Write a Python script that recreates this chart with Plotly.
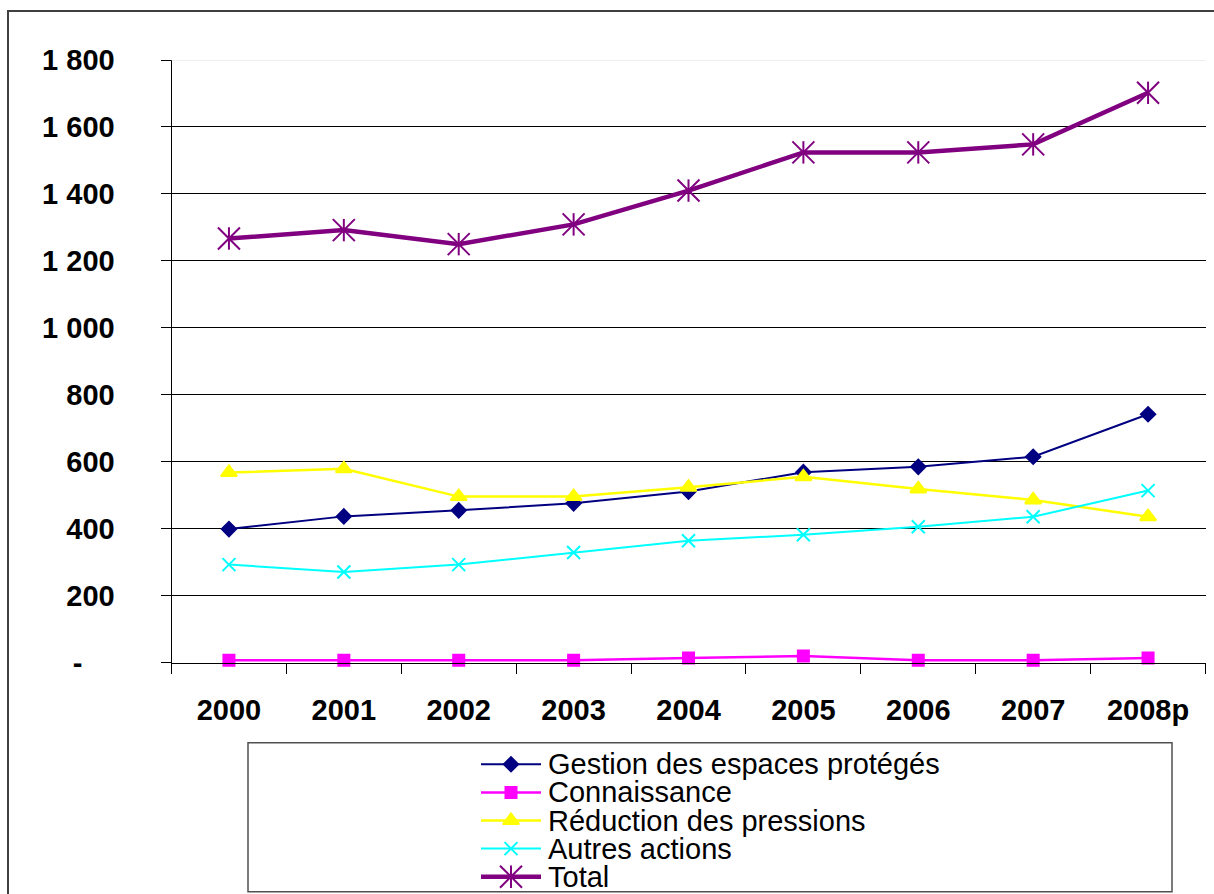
import plotly.graph_objects as go

W, H = 1214, 894

# ---- data -------------------------------------------------------------
years = ["2000", "2001", "2002", "2003", "2004", "2005", "2006", "2007", "2008p"]

gestion = [399, 437, 455, 476, 511, 569, 585, 615, 742]
connaissance = [7, 7, 7, 7, 14, 20, 7, 7, 14]
reduction = [568, 579, 496, 496, 524, 555, 519, 486, 436]
autres = [293, 271, 293, 329, 364, 382, 406, 436, 514]
total = [1267, 1292, 1250, 1309, 1410, 1524, 1524, 1548, 1702]

series_names = [
    "Gestion des espaces protégés",
    "Connaissance",
    "Réduction des pressions",
    "Autres actions",
    "Total",
]

y_tickvals = [0, 200, 400, 600, 800, 1000, 1200, 1400, 1600, 1800]
y_ticktext = ["-\u00a0\u00a0\u00a0\u00a0", "200", "400", "600", "800",
              "1 000", "1 200", "1 400", "1 600", "1 800"]

# ---- styles -----------------------------------------------------------
FONT = "Liberation Sans, Arial, sans-serif"
styles = [
    dict(color="#000080", width=2, symbol="diamond", size=11),
    dict(color="#FF00FF", width=2.5, symbol="square", size=11),
    dict(color="#FFFF00", width=2.5, symbol="triangle-up", size=14),
    dict(color="#00FFFF", width=2, symbol="x-thin-open", size=13),
    dict(color="#800080", width=4.5, symbol="x-thin-open", size=22),
]
values = [gestion, connaissance, reduction, autres, total]


def fx(p):
    """pixel x -> paper x"""
    return p / W


def fy(p):
    """pixel y (from top) -> paper y"""
    return 1 - p / H


def star_stroke(st):
    # vertical stroke that turns the x marker into a six-armed star
    return dict(symbol="line-ns-open", size=16, color=st["color"],
                line=dict(color=st["color"], width=2))


fig = go.Figure()

for name, vals, st in zip(series_names, values, styles):
    fig.add_trace(go.Scatter(
        x=years, y=vals, name=name, mode="lines+markers",
        line=dict(color=st["color"], width=st["width"]),
        marker=dict(symbol=st["symbol"], size=st["size"], color=st["color"],
                    line=dict(color=st["color"], width=2)),
        showlegend=False, cliponaxis=False,
    ))
    if name == "Total":
        fig.add_trace(go.Scatter(
            x=years, y=vals, mode="markers", showlegend=False, cliponaxis=False,
            marker=star_stroke(st),
        ))

# ---- legend drawn on its own small axes (1 unit = 60 px) --------------
for i, (name, st) in enumerate(zip(series_names, styles)):
    fig.add_trace(go.Scatter(
        x=[0, 1], y=[i, i], mode="lines", xaxis="x2", yaxis="y2",
        line=dict(color=st["color"], width=st["width"]), showlegend=False,
        hoverinfo="skip",
    ))
    fig.add_trace(go.Scatter(
        x=[0.5], y=[i], mode="markers", xaxis="x2", yaxis="y2",
        marker=dict(symbol=st["symbol"], size=st["size"], color=st["color"],
                    line=dict(color=st["color"], width=2)),
        showlegend=False, hoverinfo="skip", cliponaxis=False,
    ))
    if name == "Total":
        fig.add_trace(go.Scatter(
            x=[0.5], y=[i], mode="markers", xaxis="x2", yaxis="y2",
            marker=star_stroke(st),
            showlegend=False, hoverinfo="skip", cliponaxis=False,
        ))
    fig.add_annotation(
        x=(546 - 481) / 60, y=i, xref="x2", yref="y2", text=name,
        showarrow=False, xanchor="left", yanchor="middle",
        font=dict(family=FONT, size=29, color="#000000"),
    )

tick_font = dict(family=FONT, size=29, color="#000000", weight="bold")

fig.update_layout(
    width=W, height=H,
    margin=dict(l=0, r=0, t=0, b=0, pad=0, autoexpand=False),
    paper_bgcolor="#FFFFFF", plot_bgcolor="#FFFFFF",
    showlegend=False,
    xaxis=dict(
        domain=[fx(171.5), fx(1205.5)],
        type="category", range=[-0.5, 8.5],
        showline=True, linecolor="#000000", linewidth=1,
        ticks="outside", ticklen=10, tickcolor="#000000", tickwidth=1,
        tickson="boundaries", showgrid=False, zeroline=False,
        tickfont=tick_font, ticklabelstandoff=21, automargin=False,
    ),
    yaxis=dict(
        domain=[fy(662.7), fy(60)],
        range=[0, 1800],
        tickvals=y_tickvals, ticktext=y_ticktext,
        showline=True, linecolor="#000000", linewidth=1,
        ticks="outside", ticklen=10, tickcolor="#000000", tickwidth=1,
        showgrid=True, gridcolor="#000000", gridwidth=1,
        zeroline=False,
        tickfont=tick_font, ticklabelstandoff=40, automargin=False,
    ),
    xaxis2=dict(domain=[fx(481), fx(1141)], range=[0, 11], anchor="y2",
                visible=False, fixedrange=True, automargin=False),
    yaxis2=dict(domain=[fy(890.75), fy(750.25)], range=[4.5, -0.5],
                anchor="x2", visible=False, fixedrange=True, automargin=False),
    shapes=[
        # top gridline in light grey
        dict(type="line", xref="x domain", yref="y", x0=0, x1=1,
             y0=1800, y1=1800, line=dict(color="#E0E0E0", width=1),
             layer="above"),
        # chart-area frame
        dict(type="rect", xref="paper", yref="paper",
             x0=fx(8), x1=1.02, y0=-0.02, y1=fy(11),
             line=dict(color="#404040", width=2), layer="below"),
        # legend frame
        dict(type="rect", xref="paper", yref="paper",
             x0=fx(248), x1=fx(1172), y0=fy(891.7), y1=fy(742.7),
             line=dict(color="#505050", width=1.5), layer="below"),
    ],
)

fig.write_html("out.html")
